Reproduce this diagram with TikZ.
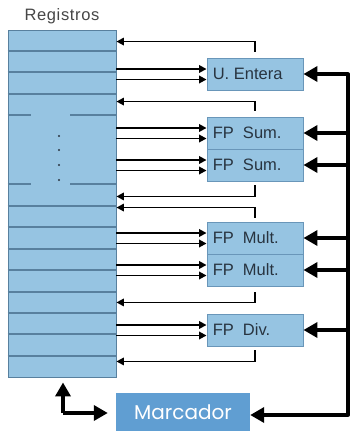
\documentclass[tikz,border=0pt]{standalone}
\usepackage{fontspec}
\setmainfont{Liberation Sans}
\newfontfamily\markfont{Poppins}
\newfontfamily\titlefont[LetterSpace=4]{Liberation Sans}
\usetikzlibrary{arrows.meta,calc}
\definecolor{regblue}{RGB}{150,196,226}
\definecolor{regline}{RGB}{88,128,158}
\definecolor{unitedge}{RGB}{105,150,185}
\definecolor{markblue}{RGB}{96,158,210}
\definecolor{inkgray}{RGB}{40,52,64}
\definecolor{titlegray}{RGB}{70,70,70}

\tikzset{
  regfile/.style={draw=regline, fill=regblue, line width=0.9pt, inner sep=0pt,
    minimum width=108pt, minimum height=347pt},
  rowline/.style={draw=regline, line width=1.1pt},
  unitbox/.style={draw=unitedge, fill=regblue, line width=0.9pt, inner sep=0pt,
    minimum width=96pt, minimum height=32pt},
  unitlabel/.style={anchor=west, text=inkgray, font=\fontsize{16.5}{17}\selectfont, inner sep=0pt},
  markbox/.style={fill=markblue, draw=none, inner sep=0pt, minimum width=134pt,
    minimum height=38pt, text=white, font=\markfont\fontsize{20}{21}\selectfont},
  thinarrow/.style={draw=black, line width=1.8pt, -{Triangle[length=7.5pt,width=7.5pt]}},
  busline/.style={draw=black, line width=3.8pt},
  busarrow/.style={draw=black, line width=3.8pt, -{Triangle[length=14pt,width=15pt]}},
}

\begin{document}
\begin{tikzpicture}[x=1pt,y=-1pt]
\useasboundingbox (0,0) rectangle (350,431);

% register file
\node[font=\titlefont\fontsize{16.5}{17}\selectfont, text=titlegray] (title) at (62,16.5) {Registros};
\node[regfile] (regs) at (62,203.5) {};
\foreach \yy in {51,72,94,206,227,249,270,292,313,334,356}
  \draw[rowline] (regs.west |- 0,\yy) -- (regs.east |- 0,\yy);
\foreach \yy in {115,184} {
  \draw[rowline] (regs.west |- 0,\yy) -- (31,\yy);
  \draw[rowline] (70,\yy) -- (regs.east |- 0,\yy);
}
\foreach \yy in {136,150,165,180}
  \fill[inkgray] (59,\yy) circle (1.1pt);

% functional units
\node[unitbox] (ue)  at (255,74)  {};
\node[unitbox] (fs1) at (255,133) {};
\node[unitbox] (fs2) at (255,165) {};
\node[unitbox] (fm1) at (255,238) {};
\node[unitbox] (fm2) at (255,270) {};
\node[unitbox] (fd)  at (255,330) {};
\node[unitlabel] at ([xshift=6pt]ue.west)  {U. Entera};
\node[unitlabel] at ([xshift=6pt]fs1.west) {FP\ \ Sum.};
\node[unitlabel] at ([xshift=6pt]fs2.west) {FP\ \ Sum.};
\node[unitlabel] at ([xshift=6pt]fm1.west) {FP\ \ Mult.};
\node[unitlabel] at ([xshift=6pt]fm2.west) {FP\ \ Mult.};
\node[unitlabel] at ([xshift=6pt]fd.west)  {FP\ \ Div.};

% scoreboard
\node[markbox] (mc) at (183,412) {Marcador};

% operand paths: registers -> units
\foreach \u in {ue,fs1,fs2,fm1,fm2,fd} {
  \draw[thinarrow] ([yshift=5pt]\u.west -| regs.east) -- ([yshift=5pt]\u.west);
  \draw[thinarrow] ([yshift=-5.5pt]\u.west -| regs.east) -- ([yshift=-5.5pt]\u.west);
}

% result paths: units -> registers
\draw[thinarrow] ([yshift=6pt]ue.north)   |- ([yshift=16pt]ue.north -| regs.east);
\draw[thinarrow] ([yshift=6pt]fs1.north)  |- ([yshift=15pt]fs1.north -| regs.east);
\draw[thinarrow] ([yshift=-4pt]fs2.south) |- ([yshift=-15pt]fs2.south -| regs.east);
\draw[thinarrow] ([yshift=4pt]fm1.north)  |- ([yshift=14pt]fm1.north -| regs.east);
\draw[thinarrow] ([yshift=-6pt]fm2.south) |- ([yshift=-16pt]fm2.south -| regs.east);
\draw[thinarrow] ([yshift=-4pt]fd.south)  |- ([yshift=-15pt]fd.south -| regs.east);

% control bus from the scoreboard
\coordinate (bus) at (348,0);
\draw[busline, line cap=round] (ue.east -| bus) -- (bus |- 0,415);
\foreach \u in {ue,fs1,fs2,fm1,fm2,fd}
  \draw[busarrow] (\u.east -| bus) -- (\u.east);
\draw[busarrow] (bus |- 0,415) -- (mc.east |- 0,415);

% scoreboard <-> register file
\coordinate (elbow) at (63,413);
\draw[busarrow] (elbow) -- ([yshift=-5pt]regs.south -| elbow);
\draw[busarrow] (elbow) -- ([xshift=-8pt]mc.west |- elbow);
\end{tikzpicture}
\end{document}
